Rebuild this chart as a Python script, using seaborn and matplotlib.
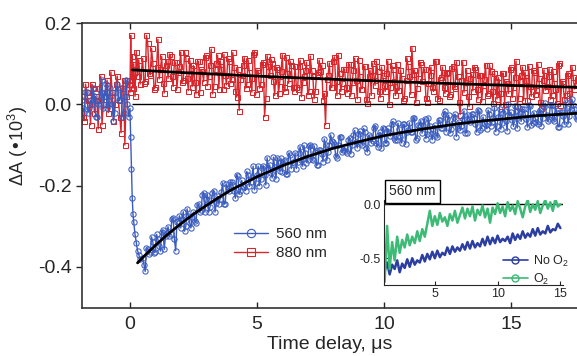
import numpy as np
import seaborn as sns
import matplotlib.pyplot as plt
from matplotlib.lines import Line2D

# time grids, µs (two interleaved sampling sets + the fast drop after t = 0)
t_pre = np.round(np.arange(-1.9, -0.05, 0.1), 2)
t_pre_b = np.round(np.arange(-1.85, 0.0, 0.1), 2)
t_drop = np.array([0.0, 0.03, 0.06, 0.09, 0.12, 0.15, 0.2, 0.25, 0.3, 0.35, 0.4])
t_post = np.round(np.arange(0.5, 17.65, 0.1), 2)
t_post_b = np.round(np.arange(0.55, 17.6, 0.1), 2)

# dA (x10^3), stored x1000
a560_pre = [10, -20, 30, -10, 0, 20, -30, 10, 60, 20, -10, 40, 0, -20, 50, 10, -30, 20, 0]
a560_pre_b = [-10, 30, -20, 10, 40, -30, 0, 30, -10, 50, 0, 20, -40, 30, 10, 40, -20, 60, -30]
a560_drop = [-10, -80, -160, -230, -270, -290, -320, -340, -360, -370, -380]
a560_post = [
    -377, -411, -355, -364, -338, -363, -332, -361, -310, -324,
    -301, -320, -279, -360, -287, -304, -264, -299, -274, -304,
    -265, -291, -246, -261, -217, -234, -265, -236, -212, -243,
    -244, -215, -246, -197, -213, -191, -212, -174, -221, -187,
    -204, -165, -202, -179, -210, -173, -200, -157, -174, -131,
    -149, -181, -154, -131, -164, -166, -138, -171, -124, -141,
    -119, -141, -104, -152, -119, -138, -100, -138, -116, -148,
    -113, -141, -99, -117, -75, -93, -126, -100, -79, -112,
    -114, -87, -121, -75, -93, -72, -95, -59, -108, -76,
    -94, -57, -96, -75, -108,
    -61, -95, -69, -48, -82, -87, -61, -95, -49, -68,
    -45, -69, -33, -82, -51, -71, -35, -74, -53, -87,
    -51, -80, -39, -58, -17, -37, -71, -45, -24, -58,
    -62, -36, -70, -25, -44, -24, -48, -13, -62, -31,
    -50, -14, -53, -33, -67, -32, -61, -20, -40, 1,
    -19, -54, -28, -8, -42, -12, -36, -1, -50, -20,
    -44, -18, -53, -7, -27, -37, -1, -41, -20, -55,
    -19, -49, -8, -28, 13, -12, -37]
a560_post_b = [
    -394, -353, -367, -326, -365, -320, -349, -313, -357, -316,
    -323, -282, -331, -290, -274, -282, -312, -257, -292, -277,
    -288, -248, -264, -224, -265, -222, -253, -219, -265, -226,
    -232, -193, -244, -205, -191, -199, -231, -177, -214, -201,
    -212, -174, -191, -152, -194, -152, -184, -151, -198, -160,
    -168, -130, -183, -145, -133, -140, -172, -120, -158, -145,
    -158, -120, -138, -101, -143, -102, -134, -102, -150, -112,
    -122, -85, -138, -101, -89, -98, -131, -79, -118, -106,
    -119, -82, -100, -64, -107, -66, -99, -68, -117, -80,
    -89, -52, -105, -69, -57,
    -95, -59, -78, -42, -87, -46, -80, -49, -98, -62,
    -69, -33, -87, -51, -40, -50, -84, -33, -72, -61,
    -75, -39, -58, -23, -67, -26, -60, -30, -79, -43,
    -52, -16, -70, -35, -24, -33, -68, -17, -57, -46,
    -60, -24, -43, -8, -52, -12, -46, -15, -65, -29,
    -39, -3, -58, -22, -12, -21, -56, -5, -45, -34,
    -49, -13, -33, 3, -42, -1, -36, -5, -55, -19,
    -29, 7, -48, -12, -2, -32]

a880_pre = [20, -40, 30, 0, 50, -20, 10, 40, -50, 20, 60, -10, 30, 0, 70, -30, 40, -100, 60]
a880_pre_b = [-30, 50, 10, -50, 40, 20, -60, 70, 0, 30, -20, 80, -40, 50, 10, -70, 60, 20, 50]
a880_drop = [30, 170, 60, 120, 40, 100, 20, 130, 70, 110, 50]
a880_post = [
    113, 58, 150, 73, 103, 43, 160, 88, 53, 98,
    64, 119, 44, 104, 79, 129, 59, 114, 34, 89,
    96, 26, 106, 86, 56, 121, 71, 136, 46, 101,
    38, 88, 123, 48, 108, 63, 93, 18, -15, 73,
    115, 50, 80, 30, 130, 85, 40, 100, -30, 120,
    72, 102, 22, 87, 57, 122, 32, 77, 107, 42,
    94, 39, 109, 54, 84, 24, 119, 69, 34, 79,
    82, 12, -50, 72, 42, 107, 57, 122, 32, 87,
    44, 99, 24, 84, 59, 109, 39, 94, 14, 69,
    22, 72, 107, 32, 92, 47, 77, 2, 97, 57,
    100, 35, 65, 15, 115, 70, 140, 85, 40, 105,
    57, 87, 7, 72, 42, 107, 17, 62, 92, 27,
    80, 25, 95, 40, 70, -25, 105, 55, 20, 65,
    33, 88, 13, 73, 48, 98, 28, 83, 3, 58,
    67, -3, 77, 57, 27, 92, 42, 107, 17, 72,
    10, 60, 95, 20, 80, 35, 65, -10, 85, 45,
    88, 23, 53, 3, 103, 58, 13, 73, 28, 93, 38, 63]
a880_post_b = [
    53, 170, 78, 138, 38, 93, 63, 118, 28, 108,
    124, 69, 104, 39, 94, 54, 129, 64, 109, 44,
    56, 106, 31, 81, 116, 46, 96, 26, 86, 121,
    108, 38, 73, 113, 53, 128, 33, 88, 63, 98,
    40, 110, 65, 125, 25, 80, 50, 105, 15, 95,
    112, 57, 92, 27, 82, 42, 117, 52, 97, 32,
    44, 94, 19, 69, 104, 34, 84, 14, 74, 109,
    97, 27, 62, 102, 42, 117, 22, 77, 52, 87,
    29, 99, 54, 114, 14, 69, 39, 94, 4, 84,
    102, 47, 82, 17, 72, 32, 107, 42, 87, 22,
    35, 85, 10, 60, 95, 25, 75, 5, 65, 100,
    87, 17, 52, 92, 32, 107, 12, 67, 42, 77,
    20, 90, 45, 105, 5, 60, 30, 85, -5, 75,
    93, 38, 73, 8, 63, 23, 98, 33, 78, 13,
    27, 77, 2, 52, 87, 17, 67, -3, 57, 92,
    80, 10, 45, 85, 25, 100, 5, 60, 35, 70,
    13, 83, 38, 98, -2, 53, 23, 78, -12, 68, 48]

time = np.concatenate([t_pre, t_pre_b, t_drop, t_post, t_post_b])
order = np.argsort(time, kind='stable')
time = time[order]
a560 = (np.array(a560_pre + a560_pre_b + a560_drop + a560_post + a560_post_b) / 1000)[order]
a880 = (np.array(a880_pre + a880_pre_b + a880_drop + a880_post + a880_post_b) / 1000)[order]

# exponential fits
fit560_t = [0.3, 0.5, 1, 1.5, 2, 2.5, 3, 3.5, 4, 4.5, 5, 6, 7, 8, 9, 10, 11, 12, 13, 14, 15, 16, 17, 17.6]
fit560 = np.array([-390, -377, -347, -319, -294, -270, -249, -229, -210, -194, -178, -151,
                   -128, -108, -92, -77, -66, -56, -47, -40, -34, -28, -24, -22]) / 1000
fit880_t = [0.1, 2, 4, 6, 8, 10, 12, 14, 16, 17.6]
fit880 = np.array([85, 78.5, 72.6, 67, 61.9, 57, 52.6, 48.6, 44.9, 42.2]) / 1000

# inset: 560 nm with / without O2
t_inset = np.round(np.arange(1.0, 15.05, 0.2), 2)
o2 = np.array([
    -720, -200, -600, -350, -520, -300, -450, -330, -400, -280,
    -380, -300, -360, -250, -340, -230, -300, -180, -60, -200,
    -110, -190, -80, -160, -120, -200, -90, -150, -60, -170,
    -100, -30, -130, -40, -110, -20, -150, -50, -100, -10,
    -120, -40, -170, -30, -90, 10, -80, -20, -110, 20,
    -60, -10, -90, 30, -40, -120, -20, 40, -70, 0,
    -50, 30, -80, -10, 40, -40, 20, -60, 50, -20, 0]) / 1000
no_o2 = np.array([
    -620, -540, -650, -560, -600, -520, -630, -550, -590, -510,
    -580, -500, -560, -520, -540, -470, -530, -460, -510, -440,
    -500, -430, -490, -450, -470, -400, -460, -390, -440, -400,
    -430, -370, -420, -350, -410, -340, -400, -360, -390, -320,
    -380, -300, -370, -310, -360, -290, -350, -320, -340, -300,
    -360, -270, -330, -280, -320, -250, -310, -270, -300, -230,
    -290, -220, -280, -250, -270, -200, -260, -230, -240, -180, -220]) / 1000

blue = '#3a5cbf'
red = '#d8262c'
ins_blue = '#2c3e9f'
ins_green = '#3dba75'

sns.set_style('ticks')
plt.rcParams['font.family'] = ['Liberation Sans', 'DejaVu Sans']
plt.rcParams['mathtext.default'] = 'regular'
plt.rcParams['axes.unicode_minus'] = False

fig = plt.figure(figsize=(5.77, 3.56), dpi=100)
ax = fig.add_axes([0.142, 0.136, 0.858, 0.799])

sns.lineplot(x=time, y=a880, ax=ax, color=red, lw=1.0, marker='s', markersize=3.6,
             markerfacecolor='none', markeredgecolor=red, markeredgewidth=0.75,
             sort=False, estimator=None)
sns.lineplot(x=time, y=a560, ax=ax, color=blue, lw=1.0, marker='o', markersize=3.8,
             markerfacecolor='none', markeredgecolor=blue, markeredgewidth=0.75,
             sort=False, estimator=None)
ax.hlines(0, 0.1, time[-1], colors='black', lw=1, zorder=4)
sns.lineplot(x=fit880_t, y=fit880, ax=ax, color='black', lw=2, zorder=5)
sns.lineplot(x=fit560_t, y=fit560, ax=ax, color='black', lw=2, zorder=5)

ax.set_xlim(-1.89, 17.6)
ax.set_ylim(-0.5, 0.2)
ax.set_xticks([0, 5, 10, 15])
ax.set_yticks([-0.4, -0.2, 0.0, 0.2])
ax.set_yticklabels(['-0.4', '-0.2', '0.0', '0.2'])
ax.spines['right'].set_visible(False)
for s in ['left', 'bottom', 'top']:
    ax.spines[s].set_linewidth(1.2)
    ax.spines[s].set_color('#333333')
ax.tick_params(axis='x', direction='in', top=True, length=4, width=1, labelsize=14, pad=6)
ax.tick_params(axis='y', direction='out', length=4, width=1, labelsize=14)
ax.set_xlabel('Time delay, μs', fontsize=14, labelpad=2)
ax.set_ylabel('ΔA (•10$^3$)', fontsize=13)
ax.yaxis.set_label_coords(-0.105, 0.57)

h560 = Line2D([], [], color=blue, lw=1, marker='o', markersize=6, markerfacecolor='none', markeredgewidth=0.8)
h880 = Line2D([], [], color=red, lw=1, marker='s', markersize=6, markerfacecolor='none', markeredgewidth=0.8)
ax.legend([h560, h880], ['560 nm', '880 nm'], loc='upper left', bbox_to_anchor=(0.28, 0.33),
          frameon=False, fontsize=11, handlelength=2.2, handletextpad=0.5, labelspacing=0.3)

# inset
ax_in = fig.add_axes([0.6655, 0.199, 0.31, 0.239])
sns.lineplot(x=t_inset, y=no_o2, ax=ax_in, color=ins_blue, lw=1.8, sort=False, estimator=None)
sns.lineplot(x=t_inset, y=o2, ax=ax_in, color=ins_green, lw=1.8, sort=False, estimator=None)
ax_in.axhline(0, color='black', lw=1, zorder=0)
ax_in.set_xlim(0.95, 15.2)
ax_in.set_ylim(-0.75, 0.04)
ax_in.set_xticks([5, 10, 15])
ax_in.set_yticks([-0.5, 0.0])
ax_in.set_yticklabels(['-0.5', '0.0'])
ax_in.spines['right'].set_visible(False)
ax_in.spines['top'].set_visible(False)
ax_in.tick_params(direction='in', length=3, labelsize=9, pad=2)
ax_in.text(0.03, 1.02, '560 nm', transform=ax_in.transAxes, fontsize=10, va='bottom', ha='left',
           bbox=dict(boxstyle='square,pad=0.3', fc='white', ec='black', lw=1))
hno = Line2D([], [], color=ins_blue, lw=1.2, marker='o', markersize=5, markerfacecolor='none')
ho2 = Line2D([], [], color=ins_green, lw=1.2, marker='o', markersize=5, markerfacecolor='none')
ax_in.legend([hno, ho2], ['No O$_2$', 'O$_2$'], loc='upper left', bbox_to_anchor=(0.6, 0.5),
             frameon=False, fontsize=9, handlelength=2.0, handletextpad=0.4, labelspacing=0.2)

fig.savefig('out.png', dpi=100)
